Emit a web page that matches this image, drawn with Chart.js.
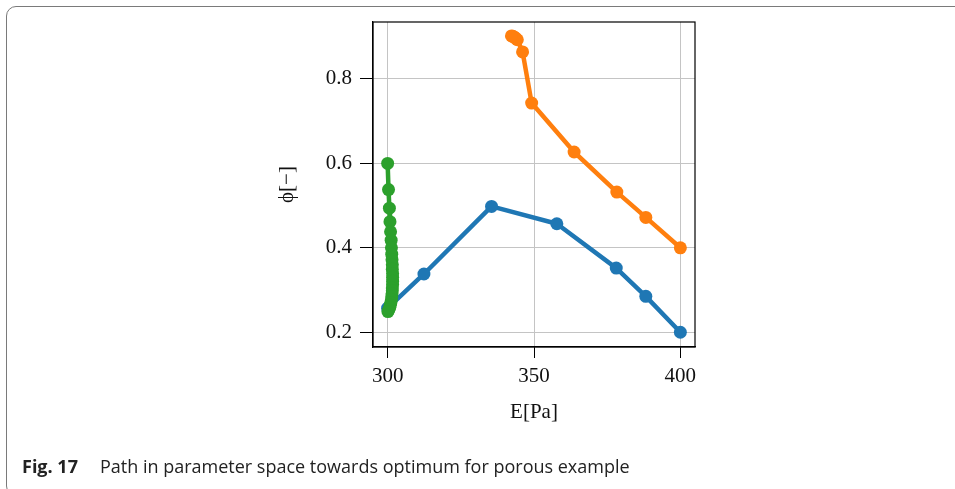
<!DOCTYPE html>
<html>
<head>
<meta charset="utf-8">
<script src="https://cdn.jsdelivr.net/npm/chart.js@4"></script>
<style>
  html, body { margin: 0; padding: 0; background: #fff; overflow: hidden; }
  #wrap { position: relative; width: 955px; height: 489px; }
  #frame {
    position: absolute; left: 6px; top: 6px; width: 1000px; height: 490px;
    border: 1.5px solid #7a7a7a; border-radius: 10px; box-sizing: border-box;
  }
  canvas { position: absolute; left: 0; top: 0; }
  #caption {
    position: absolute; left: 22px; top: 454px;
    font-family: "Open Sans", sans-serif; font-size: 18px; color: #222; white-space: nowrap;
  }
  #caption b { margin-right: 22px; }
</style>
</head>
<body>
<div id="wrap">
  <div id="frame"></div>
  <canvas id="chart" width="955" height="489"></canvas>
  <div id="caption"><b>Fig. 17</b>Path in parameter space towards optimum for porous example</div>
</div>
<script>
  const xTicks = [300, 350, 400];
  const yTicks = [0.2, 0.4, 0.6, 0.8];

  const blueE   = [400, 388.2, 378.1, 357.8, 335.5, 312.4, 300.0];
  const bluePhi = [0.200, 0.285, 0.352, 0.457, 0.498, 0.338, 0.257];

  const orangeE   = [400, 388.2, 378.3, 363.7, 349.2, 346.1, 344.3, 343.8, 343.3, 342.8, 342.3];
  const orangePhi = [0.400, 0.472, 0.532, 0.627, 0.743, 0.864, 0.893, 0.896, 0.899, 0.901, 0.902];

  const greenE = [300.0, 300.3, 300.6, 300.8, 301.0, 301.2, 301.3, 301.4, 301.5, 301.6, 301.6, 301.7, 301.7,
                  301.7, 301.7, 301.6, 301.6, 301.5, 301.4, 301.3, 301.1, 300.9, 300.7, 300.4, 300.1];
  const greenPhi = [0.600, 0.538, 0.494, 0.462, 0.438, 0.418, 0.400, 0.385, 0.372, 0.360, 0.349, 0.339, 0.330,
                    0.321, 0.313, 0.305, 0.298, 0.291, 0.284, 0.277, 0.270, 0.264, 0.258, 0.253, 0.249];

  const pts = (xs, ys) => xs.map((x, i) => ({x: x, y: ys[i]}));

  const serif = '"Liberation Serif", "DejaVu Serif", serif';

  const line = (xs, ys, color, order) => ({
    data: pts(xs, ys),
    borderColor: color,
    backgroundColor: color,
    borderWidth: 4.5,
    borderJoinStyle: 'round',
    borderCapStyle: 'round',
    pointRadius: 6.5,
    pointHoverRadius: 6.5,
    pointBorderWidth: 0,
    showLine: true,
    order: order,
  });

  // top/right spines of the plot box
  const boxPlugin = {
    id: 'box',
    afterDraw(chart) {
      const a = chart.chartArea, ctx = chart.ctx;
      ctx.save();
      ctx.strokeStyle = '#000';
      ctx.lineWidth = 1.2;
      ctx.strokeRect(a.left, a.top, a.right - a.left, a.bottom - a.top);
      ctx.restore();
    }
  };

  const config = {
    type: 'scatter',
    data: {
      datasets: [
        line(blueE, bluePhi, '#1f77b4', 3),
        line(orangeE, orangePhi, '#ff7f0e', 2),
        line(greenE, greenPhi, '#2ca02c', 1),
      ]
    },
    options: {
        responsive: false,
        animation: false,
        layout: {
            padding: { left: 271, right: 260, top: 22, bottom: 60 }
        },
        scales: {
            x: {
                min: 295,
                max: 405,
                afterBuildTicks: s => { s.ticks = xTicks.map(v => ({value: v})); },
                afterFit: s => { s.height = 82; },
                grid: {
                    color: '#c4c4c4',
                    lineWidth: 1,
                    tickColor: '#000',
                    tickLength: 11,
                },
                border: { display: true, color: '#000', width: 1.2 },
                ticks: {
                    color: '#111',
                    padding: 6,
                    font: { family: serif, size: 21 },
                    maxRotation: 0,
                },
                title: {
                    display: true,
                    text: 'E[Pa]',
                    color: '#111',
                    font: { family: serif, size: 21 },
                    padding: { top: 0, bottom: 4 },
                }
            },
            y: {
                min: 0.165,
                max: 0.935,
                afterBuildTicks: s => { s.ticks = yTicks.map(v => ({value: v})); },
                afterFit: s => { s.width = 102; },
                grid: {
                    color: '#c4c4c4',
                    lineWidth: 1,
                    tickColor: '#000',
                    tickLength: 13,
                },
                border: { display: true, color: '#000', width: 1.2 },
                ticks: {
                    color: '#111',
                    padding: 8,
                    font: { family: serif, size: 21 },
                    callback: v => v.toFixed(1),
                },
                title: {
                    display: true,
                    text: 'ϕ[−]',
                    color: '#111',
                    font: { family: serif, size: 21 },
                    padding: { top: 4, bottom: 0 },
                }
            }
        },
        plugins: {
            legend: { display: false },
            tooltip: { enabled: false },
        }
    },
    plugins: [boxPlugin],
  };

  const myChart = new Chart(document.getElementById('chart'), config);
</script>
</body>
</html>
